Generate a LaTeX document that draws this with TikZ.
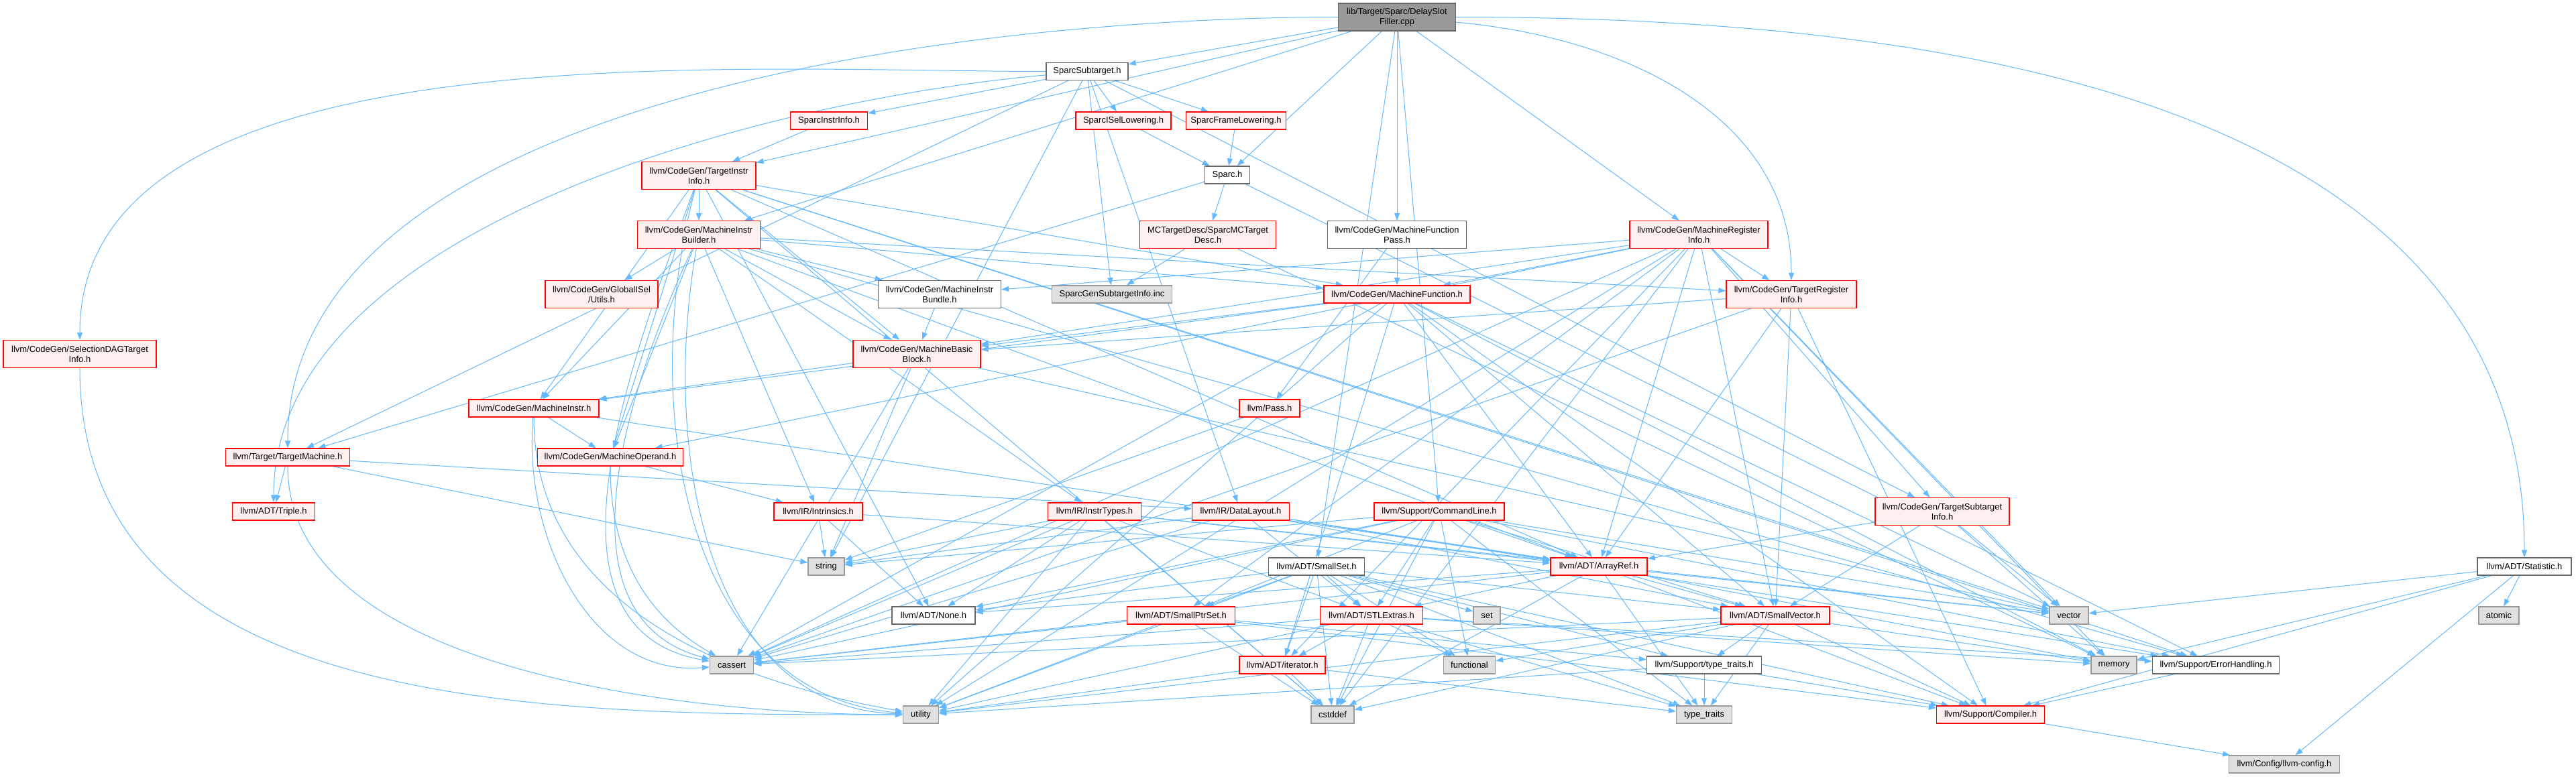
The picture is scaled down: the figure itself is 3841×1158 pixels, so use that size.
\documentclass[tikz,border=0pt]{standalone}
\usepackage{fontspec}
\setmainfont{Liberation Sans}
\usetikzlibrary{arrows.meta}
\definecolor{edgeblue}{HTML}{63B8FF}
\definecolor{redfill}{HTML}{FFF0F0}
\definecolor{grayfill}{HTML}{E0E0E0}
\definecolor{graydraw}{HTML}{999999}
\definecolor{darkdraw}{HTML}{666666}
\definecolor{rootfill}{HTML}{999999}
\pgfdeclarelayer{bg}
\pgfsetlayers{bg,main}
\begin{document}
\begin{tikzpicture}[x=0.25pt,y=-0.25pt,font=\fontsize{3.25}{3.75}\selectfont,
  base/.style={rectangle,inner sep=0pt,line width=0.33pt,align=center,text=black},
  rednode/.style={base,draw=red,fill=redfill},
  whitenode/.style={base,draw=darkdraw,fill=white},
  graynode/.style={base,draw=graydraw,fill=grayfill},
  rootnode/.style={base,draw=darkdraw,fill=rootfill},
  one/.style={minimum height=6.5pt},
  two/.style={minimum height=10.25pt},
  wd/.style={minimum width=#1*0.25pt},
  edge/.style={draw=edgeblue,line width=0.25pt,-{Triangle[length=2.75pt,width=2pt]}}]
\useasboundingbox (0,0) rectangle (3841,1158);
% row 0
\node[rootnode,two,wd=175] (dsf) at (2083,25.5) {lib/Target/Sparc/DelaySlot\\Filler.cpp};
% row 1
\node[whitenode,one,wd=122] (ss) at (1621,106.5) {SparcSubtarget.h};
% row 2
\node[rednode,one,wd=115] (sii) at (1236,180) {SparcInstrInfo.h};
\node[rednode,one,wd=142] (sisel) at (1675,180) {SparcISelLowering.h};
\node[rednode,one,wd=149] (sfl) at (1843,180) {SparcFrameLowering.h};
% row 3
\node[rednode,two,wd=170] (tii) at (1042,262) {llvm/CodeGen/TargetInstr\\Info.h};
\node[whitenode,one,wd=67] (sparch) at (1830,261) {Sparc.h};
% row 4
\node[rednode,two,wd=183] (mib) at (1042,350) {llvm/CodeGen/MachineInstr\\Builder.h};
\node[rednode,two,wd=203] (mctd) at (1801,350) {MCTargetDesc/SparcMCTarget\\Desc.h};
\node[whitenode,two,wd=207] (mfp) at (2083,350) {llvm/CodeGen/MachineFunction\\Pass.h};
\node[rednode,two,wd=206] (mri) at (2533,350) {llvm/CodeGen/MachineRegister\\Info.h};
% row 5
\node[rednode,two,wd=168] (gutils) at (897,439) {llvm/CodeGen/GlobalISel\\/Utils.h};
\node[whitenode,two,wd=183] (mibundle) at (1401,439) {llvm/CodeGen/MachineInstr\\Bundle.h};
\node[graynode,one,wd=179] (sgsi) at (1658,439) {SparcGenSubtargetInfo.inc};
\node[rednode,one,wd=218] (mf) at (2083,439) {llvm/CodeGen/MachineFunction.h};
\node[rednode,two,wd=194] (tri) at (2671,439) {llvm/CodeGen/TargetRegister\\Info.h};
% row 6
\node[rednode,two,wd=228] (sdag) at (119,528) {llvm/CodeGen/SelectionDAGTarget\\Info.h};
\node[rednode,two,wd=190] (mbb) at (1367,528) {llvm/CodeGen/MachineBasic\\Block.h};
% row 7
\node[rednode,one,wd=194] (mi) at (796,609) {llvm/CodeGen/MachineInstr.h};
\node[rednode,one,wd=90] (pass) at (1893,609) {llvm/Pass.h};
% row 8
\node[rednode,one,wd=185] (tm) at (429,682) {llvm/Target/TargetMachine.h};
\node[rednode,one,wd=217] (mo) at (910,682) {llvm/CodeGen/MachineOperand.h};
% row 9
\node[rednode,one,wd=123] (triple) at (408,763) {llvm/ADT/Triple.h};
\node[rednode,one,wd=132] (intr) at (1220,763) {llvm/IR/Intrinsics.h};
\node[rednode,one,wd=139] (instrtypes) at (1632,763) {llvm/IR/InstrTypes.h};
\node[rednode,one,wd=145] (dl) at (1850,763) {llvm/IR/DataLayout.h};
\node[rednode,one,wd=194] (cl) at (2146,763) {llvm/Support/CommandLine.h};
\node[rednode,two,wd=200] (tsi) at (2896,763) {llvm/CodeGen/TargetSubtarget\\Info.h};
% row 10
\node[graynode,one,wd=54] (string) at (1232,845) {string};
\node[whitenode,one,wd=143] (smallset) at (1963,845) {llvm/ADT/SmallSet.h};
\node[rednode,one,wd=144] (arrayref) at (2384,845) {llvm/ADT/ArrayRef.h};
\node[whitenode,one,wd=140] (statistic) at (3764,845) {llvm/ADT/Statistic.h};
% row 11
\node[whitenode,one,wd=124] (none) at (1392,918) {llvm/ADT/None.h};
\node[rednode,one,wd=161] (smallptrset) at (1761,918) {llvm/ADT/SmallPtrSet.h};
\node[rednode,one,wd=153] (stlextras) at (2045,918) {llvm/ADT/STLExtras.h};
\node[graynode,one,wd=40] (set) at (2217,918) {set};
\node[rednode,one,wd=162] (smallvector) at (2647,918) {llvm/ADT/SmallVector.h};
\node[graynode,one,wd=58] (vector) at (3085,918) {vector};
\node[graynode,one,wd=60] (atomic) at (3726,918) {atomic};
% row 12
\node[graynode,one,wd=65] (cassert) at (1091,992) {cassert};
\node[rednode,one,wd=128] (iterator) at (1912,992) {llvm/ADT/iterator.h};
\node[graynode,one,wd=77] (functional) at (2191,992) {functional};
\node[whitenode,one,wd=171] (typetraitsh) at (2541,992) {llvm/Support/type\_traits.h};
\node[graynode,one,wd=68] (memory) at (3152,992) {memory};
\node[whitenode,one,wd=189] (errh) at (3304,992) {llvm/Support/ErrorHandling.h};
% row 13
\node[graynode,one,wd=53] (utility) at (1373,1066) {utility};
\node[graynode,one,wd=64] (cstddef) at (1987,1066) {cstddef};
\node[graynode,one,wd=83] (typetraits) at (2541,1066) {type\_traits};
\node[rednode,one,wd=161] (compiler) at (2968,1066) {llvm/Support/Compiler.h};
% row 14
\node[graynode,one,wd=165] (llvmconfig) at (3406,1140) {llvm/Config/llvm-config.h};

\begin{pgfonlayer}{bg}
% curved long edges
\draw[edge] (dsf) to[out=0,in=90] (statistic);
\draw[edge] (dsf) to[out=-5,in=90] (tri);
\draw[edge] (dsf) to[out=180,in=90,looseness=0.8] (tm);
\draw[edge] (ss) to[out=180,in=90,looseness=0.8] (sdag);
\draw[edge] (ss) to[out=185,in=90,looseness=0.8] (triple);
\draw[edge] (sdag) to[out=-90,in=180] (utility);
\draw[edge] (tm) to[out=-90,in=180,looseness=0.8] (utility);
\draw[edge] (tii) to[out=-110,in=170] (cassert);
\draw[edge] (tii) to[out=-105,in=175] (utility);
\draw[edge] (mib) to[out=-115,in=165] (cassert);
\draw[edge] (mib) to[out=-100,in=178] (utility);
\draw[edge] (mi) to[out=-95,in=185] (cassert);
\draw[edge] (mi) to[out=-90,in=170] (utility);
\draw[edge] (mo) to[out=-90,in=150] (cassert);
% straight edges
\foreach \a/\b in {dsf/sparch, dsf/ss, dsf/smallset, dsf/mfp, dsf/mib, dsf/mri, dsf/tii, dsf/cl,
  ss/sfl, ss/sisel, ss/sii, ss/tsi, ss/dl, ss/tm, ss/string, ss/sgsi,
  sii/tii, sisel/sparch, sfl/sparch,
  sparch/mctd, sparch/errh, sparch/tm,
  mctd/sgsi, mctd/memory,
  tii/arrayref, tii/none, tii/mbb, tii/mf, tii/mi, tii/mib, tii/mo, tii/errh, tii/cstddef, tii/vector,
  mib/arrayref, mib/gutils, mib/mbb, mib/mf, mib/mi, mib/mibundle, mib/mo, mib/tri, mib/instrtypes, mib/intr, mib/errh,
  mibundle/mbb,
  mbb/mi, mbb/cassert, mbb/string, mbb/vector,
  mfp/mf, mfp/pass,
  mri/arrayref, mri/smallptrset, mri/smallvector, mri/mbb, mri/mf, mri/mibundle, mri/mo, mri/tri, mri/tsi, mri/cassert, mri/cstddef, mri/memory, mri/utility, mri/vector, mri/iterator,
  tri/arrayref, tri/smallvector, tri/mbb, tri/cassert, tri/compiler,
  mf/arrayref, mf/smallvector, mf/iterator, mf/mbb, mf/mi, mf/compiler, mf/cassert, mf/memory, mf/utility, mf/vector,
  mi/mo, mi/arrayref,
  mo/intr,
  tm/triple, tm/dl, tm/string,
  intr/string, intr/none, intr/arrayref,
  instrtypes/arrayref, instrtypes/none, instrtypes/stlextras, instrtypes/cassert, instrtypes/cstddef, instrtypes/string, instrtypes/utility, instrtypes/vector,
  dl/arrayref, dl/stlextras, dl/smallvector, dl/errh, dl/cassert, dl/string,
  cl/arrayref, cl/none, cl/stlextras, cl/smallptrset, cl/smallvector, cl/errh, cl/cassert, cl/cstddef, cl/functional, cl/string, cl/typetraits, cl/vector,
  pass/string,
  tsi/arrayref, tsi/smallvector, tsi/memory, tsi/vector,
  smallset/none, smallset/smallptrset, smallset/smallvector, smallset/stlextras, smallset/iterator, smallset/compiler, smallset/typetraitsh, smallset/cstddef, smallset/functional, smallset/set, smallset/utility, smallset/typetraits,
  arrayref/none, arrayref/stlextras, arrayref/smallvector, arrayref/compiler, arrayref/cassert, arrayref/cstddef, arrayref/memory, arrayref/typetraits, arrayref/vector,
  statistic/llvmconfig, statistic/compiler, statistic/atomic, statistic/memory, statistic/vector,
  smallptrset/compiler, smallptrset/typetraitsh, smallptrset/cassert, smallptrset/cstddef, smallptrset/utility,
  stlextras/iterator, stlextras/errh, stlextras/cassert, stlextras/cstddef, stlextras/functional, stlextras/memory, stlextras/typetraits, stlextras/utility,
  smallvector/compiler, smallvector/typetraitsh, smallvector/cassert, smallvector/cstddef, smallvector/functional, smallvector/memory, smallvector/typetraits, smallvector/utility,
  iterator/cstddef, iterator/typetraits, iterator/utility,
  typetraitsh/compiler, typetraitsh/typetraits, typetraitsh/utility,
  errh/compiler, compiler/llvmconfig}
  \draw[edge] (\a) -- (\b);
\end{pgfonlayer}
\end{tikzpicture}
\end{document}
